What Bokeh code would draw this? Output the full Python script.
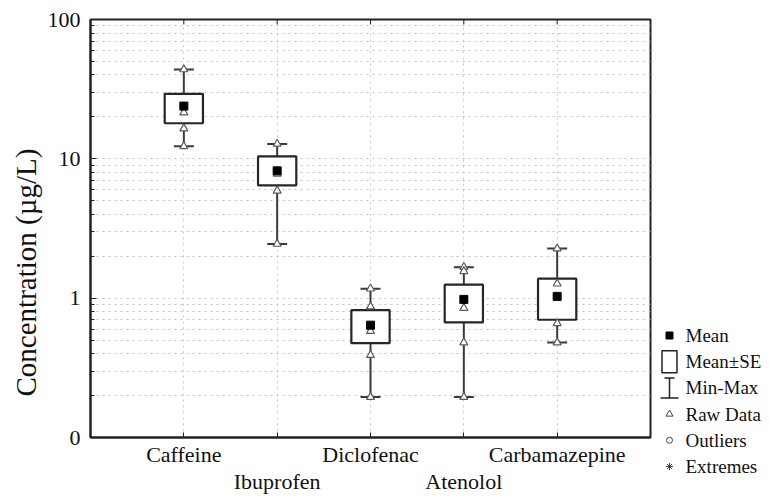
import math
from bokeh.plotting import figure
from bokeh.models import (Range1d, FixedTicker, Title, ColumnDataSource)
from bokeh.layouts import row
from bokeh.embed import file_html
from bokeh.resources import INLINE

# ---------------- data ----------------
categories = ["Caffeine", "Ibuprofen", "Diclofenac", "Atenolol", "Carbamazepine"]
cat_pos = [1, 2, 3, 4, 5]
mean_vals = [23.9, 8.2, 0.64, 0.98, 1.03]
se_low = [18.0, 6.45, 0.475, 0.67, 0.70]
se_high = [29.3, 10.4, 0.82, 1.25, 1.38]
min_vals = [12.3, 2.45, 0.195, 0.195, 0.48]
max_vals = [43.8, 12.8, 1.17, 1.67, 2.27]

raw_caffeine = [43.8, 21.5, 16.5, 12.3]
raw_ibuprofen = [12.8, 7.8, 5.9, 2.45]
raw_diclofenac = [1.17, 0.87, 0.58, 0.39, 0.195]
raw_atenolol = [1.67, 1.56, 0.85, 0.48, 0.195]
raw_carbamazepine = [2.27, 1.27, 0.66, 0.48]

y_major = [0.1, 1, 10, 100]
y_major_labels = ["0", "1", "10", "100"]
y_minor = [m * d for d in [0.1, 1, 10] for m in range(2, 10)]

legend_labels = ["Mean", "Mean\u00b1SE", "Min-Max", "Raw Data", "Outliers", "Extremes"]

FONT = "Liberation Serif"

raw_groups = [raw_caffeine, raw_ibuprofen, raw_diclofenac, raw_atenolol, raw_carbamazepine]
raw_x = [cat_pos[i] for i, g in enumerate(raw_groups) for _ in g]
raw_y = [v for g in raw_groups for v in g]

# ---------------- main plot ----------------
H = 498
p = figure(width=654, height=H, x_range=Range1d(0, 6), y_range=Range1d(y_major[0], y_major[-1]),
           y_axis_type="log", output_backend="svg", toolbar_location=None,
           min_border_left=90, min_border_right=4, min_border_top=19, min_border_bottom=61)
p.frame_align = False
p.background_fill_color = "white"
p.border_fill_color = "white"
p.outline_line_color = "#222222"
p.outline_line_width = 2

# axes
xa = p.xaxis[0]
xa.ticker = FixedTicker(ticks=cat_pos)
overrides = {}
for i, (c, lab) in enumerate(zip(cat_pos, categories)):
    overrides[c] = lab if i % 2 == 0 else "\n" + lab
xa.major_label_overrides = overrides
xa.major_label_text_font = FONT
xa.major_label_text_font_size = "22px"
xa.major_label_text_color = "#111111"
xa.major_label_text_line_height = 1.1
xa.major_label_standoff = 4
xa.major_tick_in = 5
xa.major_tick_out = 0
xa.minor_tick_line_color = None
xa.axis_line_width = 2
xa.axis_line_color = "#222222"
xa.major_tick_line_color = "#222222"

ya = p.yaxis[0]
ya.ticker = FixedTicker(ticks=y_major, minor_ticks=y_minor)
ya.major_label_overrides = {v: l for v, l in zip(y_major, y_major_labels)}
ya.major_label_text_font = FONT
ya.major_label_text_font_size = "22px"
ya.major_label_text_color = "#111111"
ya.major_label_standoff = 10
ya.major_tick_in = 6
ya.major_tick_out = 0
ya.minor_tick_in = 4
ya.minor_tick_out = 0
ya.axis_line_width = 2
ya.axis_line_color = "#222222"
ya.major_tick_line_color = "#222222"
ya.minor_tick_line_color = "#222222"

p.add_layout(Title(text="Concentration (\u00b5g/L)", align="left", offset=41,
                   text_font=FONT, text_font_size="29px", text_font_style="normal",
                   text_color="#111111", standoff=6), "left")

# grids
p.xgrid.ticker = FixedTicker(ticks=cat_pos)
p.xgrid.grid_line_color = "#c8c8c8"
p.xgrid.grid_line_dash = "dotted"
p.ygrid.ticker = FixedTicker(ticks=y_major, minor_ticks=y_minor)
p.ygrid.grid_line_color = "#c0c0c0"
p.ygrid.grid_line_dash = "dotted"
p.ygrid.minor_grid_line_color = "#c0c0c0"
p.ygrid.minor_grid_line_dash = "dotted"

# top-edge category ticks (half of a vertical dash, the rest clipped by the frame)
p.scatter(x=cat_pos, y=[y_major[-1]] * len(cat_pos), marker="dash", angle=math.pi / 2,
          size=10, line_color="#222222", line_width=1)

src = ColumnDataSource(dict(x=cat_pos, mean=mean_vals, lo=se_low, hi=se_high,
                            mn=min_vals, mx=max_vals))

# whiskers
p.segment(x0="x", y0="mn", x1="x", y1="mx", source=src, line_color="#3a3a3a", line_width=2)
p.scatter(x="x", y="mn", source=src, marker="dash", size=20, line_color="#3a3a3a", line_width=2)
p.scatter(x="x", y="mx", source=src, marker="dash", size=20, line_color="#3a3a3a", line_width=2)
# SE boxes
p.vbar(x="x", width=0.41, bottom="lo", top="hi", source=src, fill_color="white",
       line_color="#262626", line_width=2.2)
# raw data
p.scatter(x=raw_x, y=raw_y, marker="triangle", size=8, fill_color="white",
          line_color="#5a5a5a", line_width=1.2)
# mean
p.scatter(x="x", y="mean", source=src, marker="square", size=8, fill_color="black",
          line_color="black")

# ---------------- legend panel (pixel coordinates) ----------------
W2 = 112
lg = figure(width=W2, height=H, x_range=Range1d(0, W2), y_range=Range1d(H, 0),
            output_backend="svg", toolbar_location=None, min_border=0,
            x_axis_location=None, y_axis_location=None)
lg.frame_align = False
lg.grid.visible = False
lg.outline_line_color = None
lg.background_fill_color = "white"
lg.border_fill_color = "white"

y0, dy, mx_ = 335, 26.2, 15
ly = [y0 + dy * i for i in range(len(legend_labels))]
lg.scatter(x=[mx_], y=[ly[0]], marker="square", size=7, fill_color="black", line_color="black")
lg.rect(x=[mx_], y=[ly[1]], width=15, height=22, fill_color="white", line_color="#222222",
        line_width=1.5)
lg.segment(x0=[mx_], y0=[ly[2] - 10], x1=[mx_], y1=[ly[2] + 10], line_color="#222222", line_width=1.5)
lg.segment(x0=[mx_ - 5], y0=[ly[2] - 10], x1=[mx_ + 5], y1=[ly[2] - 10], line_color="#222222", line_width=1.5)
lg.segment(x0=[mx_ - 9], y0=[ly[2] + 10], x1=[mx_ + 9], y1=[ly[2] + 10], line_color="#222222", line_width=1.5)
lg.scatter(x=[mx_], y=[ly[3]], marker="triangle", size=7, fill_color="white", line_color="#444444")
lg.scatter(x=[mx_], y=[ly[4]], marker="circle", size=6, fill_color="white", line_color="#444444")
lg.scatter(x=[mx_], y=[ly[5]], marker="asterisk", size=7, line_color="#444444")
lg.text(x=[31] * len(legend_labels), y=ly, text=legend_labels, text_font=FONT,
        text_font_size="19px", text_baseline="middle", text_align="left", text_color="#111111")

layout = row(p, lg)
open("out.html", "w").write(file_html(layout, INLINE))
